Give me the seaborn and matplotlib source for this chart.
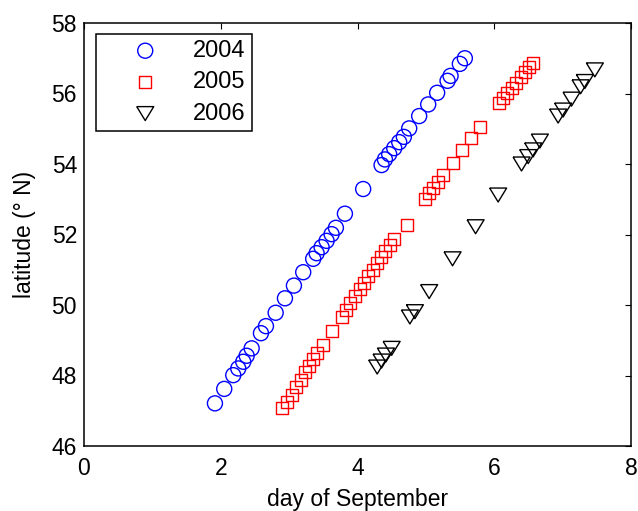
import numpy as np
import pandas as pd
import seaborn as sns
import matplotlib.pyplot as plt

# positions (day of September, latitude)
day_2004 = [1.915, 2.051, 2.183, 2.256, 2.329, 2.379, 2.452, 2.588, 2.661, 2.803,
            2.939, 3.070, 3.206, 3.352, 3.402, 3.475, 3.548, 3.621, 3.684, 3.816,
            4.083, 4.352, 4.401, 4.463, 4.537, 4.610, 4.678, 4.756, 4.902, 5.034,
            5.165, 5.317, 5.361, 5.497, 5.570]
lat_2004 = [47.21, 47.62, 48.01, 48.20, 48.39, 48.56, 48.77, 49.20, 49.40, 49.78,
            50.19, 50.55, 50.93, 51.31, 51.47, 51.64, 51.82, 52.01, 52.19, 52.59,
            53.29, 53.97, 54.13, 54.28, 54.45, 54.62, 54.77, 55.01, 55.36, 55.69,
            56.02, 56.36, 56.50, 56.84, 57.00]

day_2005 = [2.890, 2.972, 3.037, 3.099, 3.168, 3.231, 3.294, 3.352, 3.411, 3.499,
            3.630, 3.768, 3.830, 3.889, 3.962, 4.035, 4.098, 4.156, 4.221, 4.279,
            4.338, 4.401, 4.474, 4.537, 4.718, 4.985, 5.048, 5.107, 5.180, 5.253,
            5.390, 5.522, 5.658, 5.789, 6.072, 6.130, 6.189, 6.253, 6.316, 6.385,
            6.447, 6.510, 6.560]
lat_2005 = [47.07, 47.26, 47.45, 47.67, 47.87, 48.11, 48.28, 48.46, 48.63, 48.87,
            49.26, 49.67, 49.86, 50.05, 50.26, 50.45, 50.63, 50.82, 50.99, 51.18,
            51.35, 51.53, 51.70, 51.86, 52.27, 53.00, 53.17, 53.31, 53.50, 53.69,
            54.04, 54.40, 54.73, 55.06, 55.72, 55.86, 56.01, 56.16, 56.31, 56.48,
            56.62, 56.76, 56.87]

day_2006 = [4.288, 4.352, 4.415, 4.499, 4.766, 4.839, 5.048, 5.390, 5.727, 6.057,
            6.399, 6.496, 6.569, 6.667, 6.934, 7.007, 7.130, 7.262, 7.325, 7.471]
lat_2006 = [48.24, 48.41, 48.58, 48.77, 49.66, 49.81, 50.38, 51.31, 52.22, 53.12,
            54.00, 54.21, 54.40, 54.65, 55.36, 55.53, 55.84, 56.19, 56.34, 56.67]

years = ['2004', '2005', '2006']

sns.set_style('white')
plt.rcParams['font.family'] = ['Liberation Sans', 'DejaVu Sans']
plt.rcParams['font.size'] = 16.5
for key in ['text.color', 'axes.labelcolor', 'xtick.color', 'ytick.color']:
    plt.rcParams[key] = 'black'

fig = plt.figure(figsize=(6.38, 5.11), dpi=100)
ax = fig.add_axes([84 / 638, 65 / 511, 547 / 638, 423 / 511])

# MATLAB style wide down-triangle
tri = [(-1, 0.82), (1, 0.82), (0, -0.82), (-1, 0.82)]

series = [
    (day_2004, lat_2004, 'o', 117, 'blue'),
    (day_2005, lat_2005, 's', 74, 'red'),
    (day_2006, lat_2006, tri, 150, 'black'),
]
for (d, lat, mk, size, col), yr in zip(series, years):
    df = pd.DataFrame({'day': d, 'lat': lat})
    sns.scatterplot(data=df, x='day', y='lat', marker=mk, s=size,
                    facecolor='none', edgecolor=col, linewidth=1.0,
                    label=yr, ax=ax)

ax.set_xlim(0, 8)
ax.set_ylim(46, 58)
ax.set_xticks([0, 2, 4, 6, 8])
ax.set_yticks(np.arange(46, 59, 2))
ax.set_xlabel('day of September', labelpad=6)
ax.set_ylabel('latitude (° N)', labelpad=11)

ax.tick_params(direction='in', top=True, right=True, length=4.5, width=0.8,
               color='black', labelcolor='black', labelsize=16.5)
ax.tick_params(axis='x', pad=8)
ax.tick_params(axis='y', pad=5)
for sp in ax.spines.values():
    sp.set_color('black')
    sp.set_linewidth(1.1)

leg = ax.legend(loc='upper left', bbox_to_anchor=(12 / 547, 412 / 423),
                borderaxespad=0, fancybox=False, framealpha=1,
                edgecolor='black', borderpad=0.25, handlelength=3.67,
                handletextpad=0.2, labelspacing=0.4, fontsize=17)
leg.get_frame().set_linewidth(1.1)

plt.savefig('out.png', dpi=100)
